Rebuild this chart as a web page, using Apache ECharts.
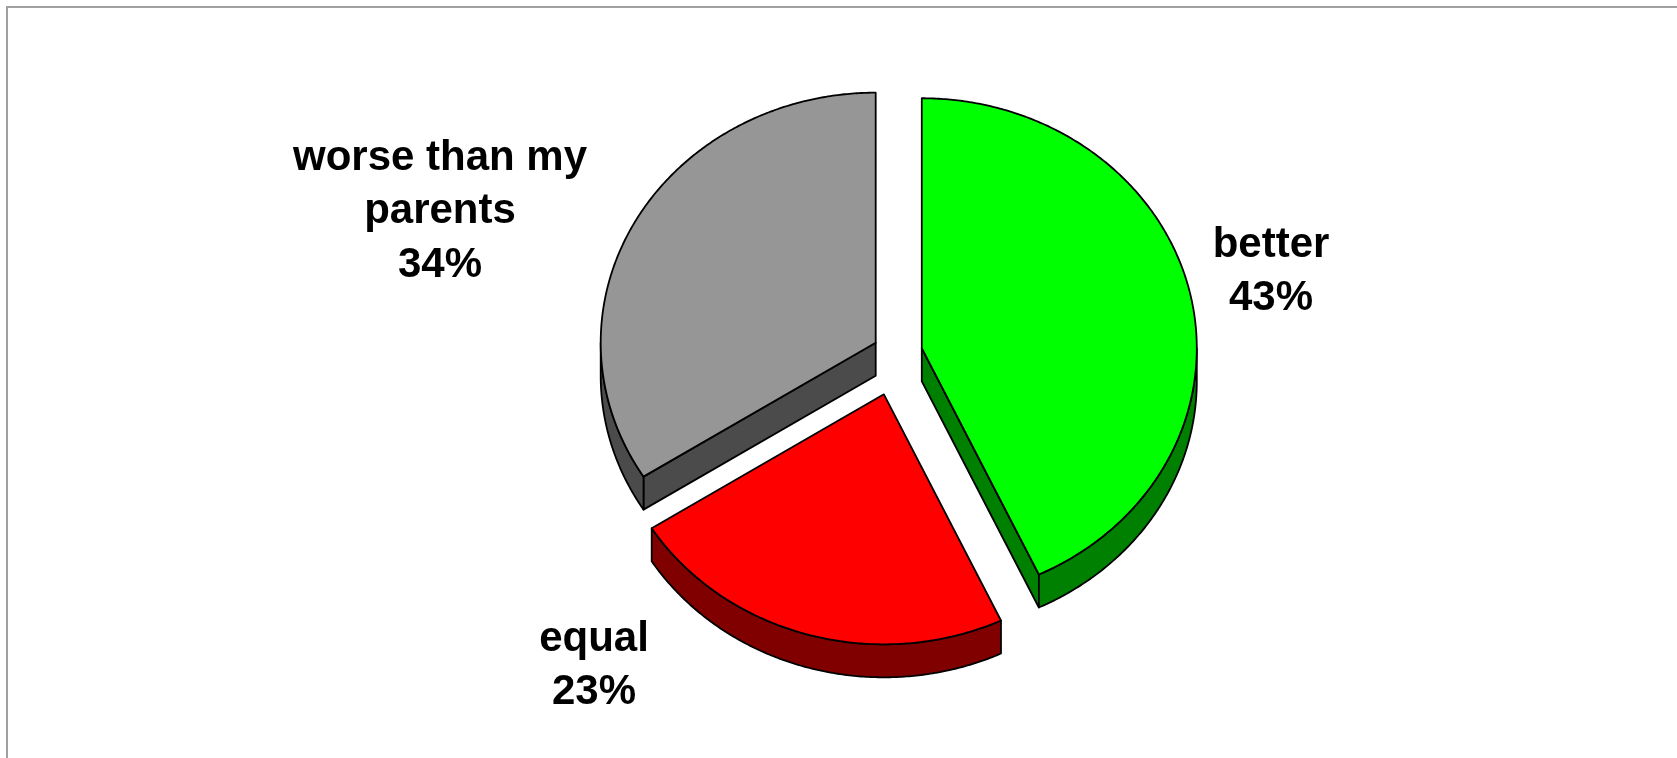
<!DOCTYPE html>
<html>
<head>
<meta charset="utf-8">
<script src="https://cdn.jsdelivr.net/npm/echarts@6/dist/echarts.min.js"></script>
<style>
  html, body { margin: 0; padding: 0; background: #ffffff; }
  #chart { width: 1677px; height: 758px; }
</style>
</head>
<body>
<div id="chart"></div>
<script>
// Survey answers: how will my life be compared with my parents'?
const categories = ['better', 'equal', 'worse than my\nparents'];
const values = [43, 23, 34];

// Face colours: top face and darker extruded side
const topColors = ['#00ff00', '#ff0000', '#969696'];
const sideColors = ['#008000', '#800000', '#4b4b4b'];

// 3D pie layout (pixels): ellipse radii, extrusion depth, explosion per slice
const PIE = { cx: 897, cy: 353.3, rx: 275, ry: 250, depth: 33 };
const explode = [25.4, 47, 24.3];
const labelAnchor = [[1271, 272], [594, 666], [440, 211.5]];
const LABEL_FONT = 'bold 42px "Liberation Sans", Arial, Helvetica, sans-serif';

const total = values.reduce((a, b) => a + b, 0);
const DEG = Math.PI / 180;

function renderSlice(params, api) {
  const i = params.dataIndex;
  const v = api.value(0);
  let before = 0;
  for (let j = 0; j < i; j++) before += values[j];
  // angles measured clockwise from 12 o'clock
  const a0 = before / total * 360;
  const a1 = a0 + v / total * 360;
  const mid = (a0 + a1) / 2;
  const k = PIE.ry / PIE.rx;
  const ox = PIE.cx + explode[i] * Math.sin(mid * DEG);
  const oy = PIE.cy - explode[i] * Math.cos(mid * DEG) * k;
  const d = PIE.depth;
  const pt = (deg, dz) => [ox + PIE.rx * Math.sin(deg * DEG), oy - PIE.ry * Math.cos(deg * DEG) + (dz || 0)];
  const arc = (from, to, dz) => {
    const out = [];
    const n = Math.max(2, Math.ceil(Math.abs(to - from) / 0.5));
    for (let s = 0; s <= n; s++) out.push(pt(from + (to - from) * s / n, dz));
    return out;
  };
  const edge = { stroke: '#000', lineWidth: 1.8, lineJoin: 'round' };
  const children = [];

  // radial cut faces that turn toward the viewer
  if (Math.sin(a0 * DEG) < -1e-6) {
    const p = pt(a0);
    children.push({ type: 'polygon', shape: { points: [[ox, oy], p, [p[0], p[1] + d], [ox, oy + d]] },
      style: Object.assign({ fill: sideColors[i] }, edge) });
  }
  if (Math.sin(a1 * DEG) > 1e-6) {
    const p = pt(a1);
    children.push({ type: 'polygon', shape: { points: [[ox, oy], p, [p[0], p[1] + d], [ox, oy + d]] },
      style: Object.assign({ fill: sideColors[i] }, edge) });
  }
  // curved outer wall on the front half of the ellipse
  const s0 = Math.max(a0, 90), s1 = Math.min(a1, 270);
  if (s1 > s0) {
    const pts = arc(s0, s1, 0).concat(arc(s1, s0, d));
    children.push({ type: 'polygon', shape: { points: pts },
      style: Object.assign({ fill: sideColors[i] }, edge) });
  }
  // top face
  children.push({ type: 'polygon', shape: { points: [[ox, oy]].concat(arc(a0, a1, 0)) },
    style: Object.assign({ fill: topColors[i] }, edge) });
  // data label
  children.push({ type: 'text', style: {
    text: categories[i] + '\n' + Math.round(v / total * 100) + '%',
    x: labelAnchor[i][0], y: labelAnchor[i][1],
    font: LABEL_FONT, fill: '#000', align: 'center', verticalAlign: 'middle', lineHeight: 53.5
  } });
  return { type: 'group', children: children };
}

const chart = echarts.init(document.getElementById('chart'), null, { renderer: 'canvas' });
chart.setOption({
  backgroundColor: '#ffffff',
  animation: false,
  graphic: [{
    type: 'rect', z: -10, silent: true,
    shape: { x: 7, y: 7, width: 1720, height: 820 },
    style: { fill: 'none', stroke: '#a0a0a0', lineWidth: 2 }
  }],
  series: [{
    type: 'custom',
    coordinateSystem: 'none',
    renderItem: renderSlice,
    data: values.map((v, i) => ({ name: categories[i], value: [v] }))
  }]
});
</script>
</body>
</html>
